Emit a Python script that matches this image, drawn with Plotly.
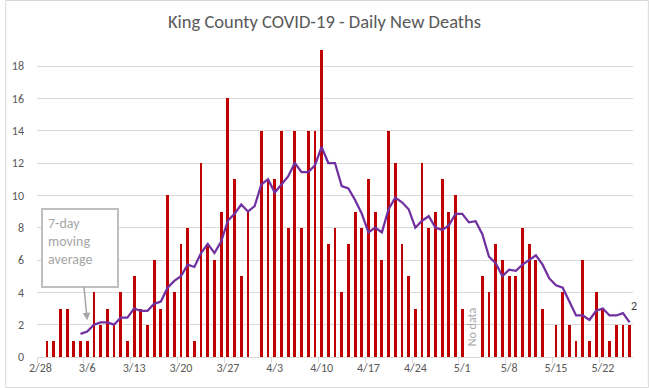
import pandas as pd
import plotly.graph_objects as go

# ---- data ----
start_date = "2020-02-28"
n_days = 89
dates = pd.date_range(start_date, periods=n_days, freq="D")

# Daily new deaths (None = no data)
daily_deaths = [
    0, 1, 1, 3, 3, 1, 1, 1, 4, 2,
    3, 2, 4, 1, 5, 3, 2, 6, 3, 10,
    4, 7, 8, 1, 12, 7, 6, 9, 16, 11,
    5, 9, None, 14, 11, 11, 14, 8, 14, 8,
    14, 14, 19, 7, 8, 4, 7, 9, 8, 11,
    9, 6, 14, 12, 7, 5, 3, 12, 8, 9,
    11, 9, 10, 3, None, None, 5, 4, 7, 6,
    5, 5, 8, 7, 6, 3, 0, 2, 4, 2,
    1, 6, 1, 4, 3, 1, 2, 2, 2,
]

# 7-day moving average (starts on 3/5)
ma_start = 6
moving_avg = [
    1.43, 1.57, 2.00, 2.14, 2.14, 2.00, 2.43, 2.43, 3.00, 2.86,
    2.86, 3.29, 3.43, 4.29, 4.71, 5.00, 5.71, 5.57, 6.43, 7.00,
    6.43, 7.14, 8.43, 8.86, 9.43, 9.00, 9.33, 10.67, 11.00, 10.17,
    10.67, 11.17, 12.00, 11.43, 11.43, 11.86, 13.00, 12.00, 12.00, 10.57,
    10.43, 9.71, 8.86, 7.71, 8.00, 7.71, 9.14, 9.86, 9.57, 9.14,
    8.00, 8.43, 8.71, 8.00, 7.86, 8.14, 8.86, 8.86, 8.33, 8.40,
    7.60, 6.20, 5.80, 5.00, 5.40, 5.33, 5.71, 6.00, 6.29, 5.71,
    4.86, 4.43, 4.29, 3.43, 2.57, 2.57, 2.29, 2.86, 3.00, 2.57,
    2.57, 2.71, 2.14,
]

y_ticks = [0, 2, 4, 6, 8, 10, 12, 14, 16, 18]
title_text = "King County COVID-19 - Daily New Deaths"
box_text = "7-day<br>moving<br>average"
no_data_text = "No data"

# ---- styling ----
DAY_MS = 86400000
W, H = 649, 388
ML, MR, MT, MB = 32, 16, 45, 31
PW, PH = W - ML - MR, H - MT - MB
FONT = "Carlito, Lato, sans-serif"
GRAY_TXT = "#595959"
GRID = "#d9d9d9"

fig = go.Figure()
fig.add_trace(go.Bar(
    x=dates, y=daily_deaths,
    marker=dict(color="#c00000", line=dict(width=0)),
    width=0.42 * DAY_MS,
    name="Daily deaths",
))
fig.add_trace(go.Scatter(
    x=dates[ma_start:], y=moving_avg,
    mode="lines",
    line=dict(color="#7030a0", width=2.25),
    name="7-day moving average",
))

x0 = dates[0] - pd.Timedelta(hours=12)
x1 = dates[-1] + pd.Timedelta(hours=12)

fig.update_layout(
    width=W, height=H,
    margin=dict(l=ML, r=MR, t=MT, b=MB, pad=0),
    paper_bgcolor="white", plot_bgcolor="white",
    showlegend=False,
    bargap=0,
    font=dict(family=FONT, color=GRAY_TXT, size=12),
    title=dict(text=title_text, x=0.5, xref="container", xanchor="center",
               y=1 - 22 / H, yref="container", yanchor="middle",
               font=dict(family=FONT, size=18.5, color=GRAY_TXT)),
    xaxis=dict(
        type="date",
        range=[x0, x1],
        tickmode="linear", tick0=start_date, dtick=7 * DAY_MS,
        tickformat="%-m/%-d",
        ticks="",
        showgrid=False,
        showline=True, linecolor=GRID, linewidth=1,
        tickfont=dict(family=FONT, size=12, color=GRAY_TXT),
        minor=dict(tickmode="linear", tick0=x0, dtick=7 * DAY_MS,
                   ticks="outside", ticklen=5, tickcolor=GRID, tickwidth=1,
                   showgrid=False),
        zeroline=False,
    ),
    yaxis=dict(
        range=[0, 19.3],
        tickmode="array", tickvals=y_ticks,
        showgrid=True, gridcolor=GRID, gridwidth=1,
        zeroline=False, showline=False,
        ticks="",
        ticklabelstandoff=12,
        tickfont=dict(family=FONT, size=12, color=GRAY_TXT),
    ),
)

# call-out box for the moving average
fig.add_annotation(
    x=dates[ma_start + 1], y=2.27,
    ax=-7, ay=-72,
    text=box_text, align="left", valign="top",
    showarrow=True, arrowhead=2, arrowsize=1, arrowwidth=1.5,
    arrowcolor="#a6a6a6",
    bordercolor="#bfbfbf", borderwidth=2, borderpad=5,
    bgcolor="white",
    width=64, height=66,
    font=dict(family=FONT, size=14, color="#a6a6a6"),
)

# "No data" label between the two missing days
nd_idx = [i for i, v in enumerate(daily_deaths) if v is None and i > 40]
fig.add_annotation(
    x=dates[nd_idx[0]] + pd.Timedelta(hours=12), y=1.86,
    text=no_data_text, textangle=-90, showarrow=False,
    font=dict(family=FONT, size=12, color="#a6a6a6"),
)

# last moving-average data label
fig.add_annotation(
    x=dates[-1], y=moving_avg[-1],
    text=f"{moving_avg[-1]:.0f}", showarrow=False,
    xanchor="left", yanchor="bottom", xshift=-1, yshift=7,
    font=dict(family=FONT, size=12, color="#404040"),
)

# chart border
fig.add_shape(type="rect", xref="paper", yref="paper",
              x0=-(ML - 0.5) / PW, x1=1 + (MR - 0.5) / PW,
              y0=-(MB - 0.5) / PH, y1=1 + (MT - 0.5) / PH,
              line=dict(color=GRID, width=1), layer="below")

fig.write_html(
    "out.html",
    config={"displayModeBar": False},
    post_script="document.body.style.margin='0';document.body.style.overflow='hidden';",
)
